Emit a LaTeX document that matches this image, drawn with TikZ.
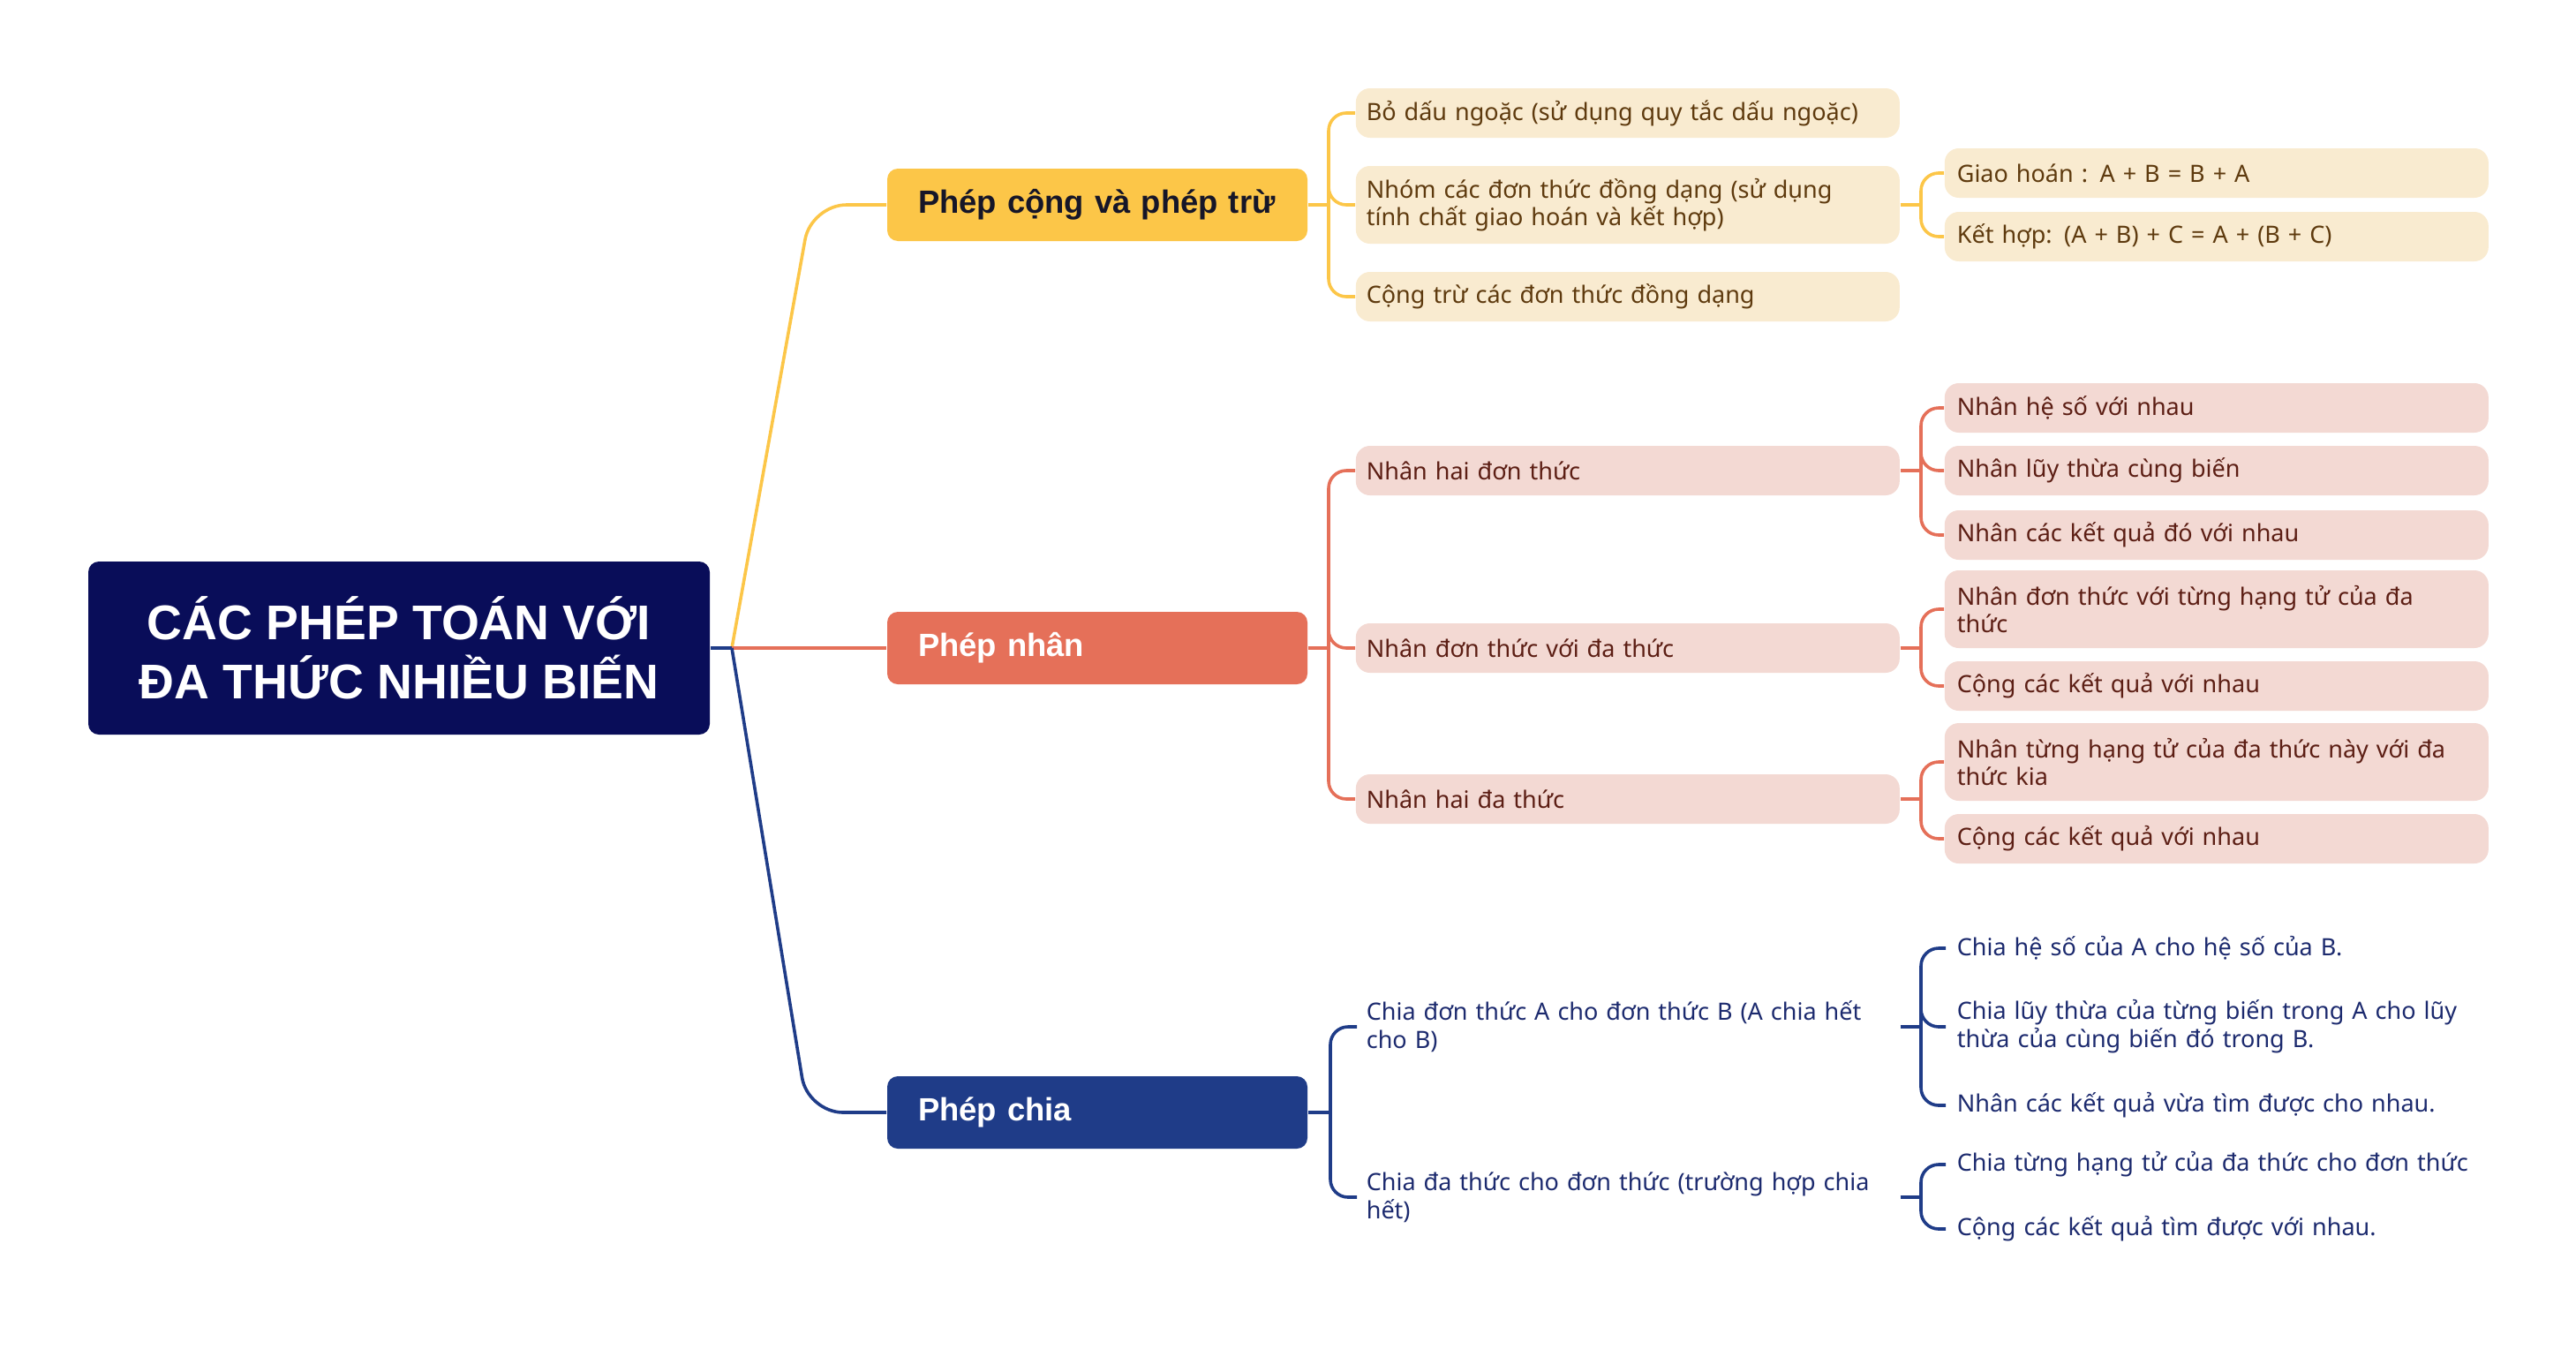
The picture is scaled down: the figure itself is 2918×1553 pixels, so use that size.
\documentclass[tikz,border=0pt]{standalone}
\usepackage{fontspec}
\setmainfont{Noto Sans}
\newfontfamily\bsans{Liberation Sans}
\usetikzlibrary{calc}
\definecolor{rootc}{RGB}{9,13,89}
\definecolor{ylc}{RGB}{252,198,72}
\definecolor{ylfill}{RGB}{249,235,208}
\definecolor{yltext}{RGB}{94,58,14}
\definecolor{rdc}{RGB}{229,112,89}
\definecolor{rdfill}{RGB}{243,217,211}
\definecolor{rdtext}{RGB}{92,30,20}
\definecolor{blc}{RGB}{31,60,136}
\definecolor{bltext}{RGB}{28,42,110}
\definecolor{darktext}{RGB}{22,22,40}
\begin{document}
\begin{tikzpicture}[x=0.25pt,y=-0.25pt,
 rootbox/.style={fill=rootc, rounded corners=3pt, minimum width=176pt, minimum height=49pt, text=white, align=center, font=\bsans\bfseries\fontsize{13.8}{16.75}\selectfont, inner sep=0pt},
 lone/.style={rounded corners=3pt, minimum height=20.5pt, text width=101.5pt, inner xsep=8.75pt, inner ysep=0pt, align=left, font=\bsans\bfseries\fontsize{9.1}{10}\selectfont},
 ltwo/.style={anchor=west, rounded corners=4pt, minimum height=14pt, text width=148pt, inner xsep=3pt, inner ysep=0pt, align=left, font=\fontsize{6.75}{7.75}\selectfont},
 lthree/.style={anchor=west, rounded corners=4pt, minimum height=14pt, text width=147pt, inner xsep=3.5pt, inner ysep=0pt, align=left, font=\fontsize{6.75}{7.75}\selectfont},
 btwo/.style={anchor=west, text width=148.5pt, inner xsep=2.5pt, inner ysep=0pt, align=left, font=\fontsize{6.75}{8}\selectfont, text=bltext},
 bthree/.style={anchor=west, text width=152pt, inner xsep=3pt, inner ysep=0pt, align=left, font=\fontsize{6.75}{8}\selectfont, text=bltext},
 tall/.style={minimum height=22pt},
 yb/.style={fill=ylfill, text=yltext},
 rb/.style={fill=rdfill, text=rdtext},
 conn/.style={line width=0.9pt},
 yl/.style={conn, draw=ylc},
 rl/.style={conn, draw=rdc},
 bl/.style={conn, draw=blc},
]
\useasboundingbox (0,0) rectangle (2918,1553);

% root and main branches
\node[rootbox] (root) at (452,734) {CÁC PHÉP TOÁN VỚI\\ĐA THỨC NHIỀU BIẾN};
\node[lone, fill=ylc, text=darktext] (pc) at (1243,232) {Phép cộng và phép trừ};
\node[lone, fill=rdc, text=white] (pn) at (1243,734) {Phép nhân};
\node[lone, fill=blc, text=white] (pch) at (1243,1260) {Phép chia};

\coordinate (hub) at (829,734);
\draw[yl, rounded corners=10pt] (hub) -- (919,232) -- (pc.west);
\draw[rl] (hub) -- (pn.west);
\draw[bl, rounded corners=10pt] (hub) -- (915,1260) -- (pch.west);
\draw[bl] (root.east) -- (hub);

% yellow branch
\node[ltwo, yb] (y1) at (1535,128) {Bỏ dấu ngoặc (sử dụng quy tắc dấu ngoặc)};
\node[ltwo, yb, tall] (y2) at (1535,232) {Nhóm các đơn thức đồng dạng (sử dụng\\tính chất giao hoán và kết hợp)};
\node[ltwo, yb] (y3) at (1535,336) {Cộng trừ các đơn thức đồng dạng};
\node[lthree, yb] (y21) at (2202,196) {Giao hoán : A + B = B + A};
\node[lthree, yb] (y22) at (2202,268) {Kết hợp: (A + B) + C = A + (B + C)};

\coordinate (yj) at (1505,232);
\draw[yl] (pc.east) -- (yj);
\foreach \n in {y1,y2,y3} \draw[yl, rounded corners=5pt] (yj) |- (\n.west);
\coordinate (yj2) at (2176,232);
\draw[yl] (y2.east) -- (yj2);
\foreach \n in {y21,y22} \draw[yl, rounded corners=5pt] (yj2) |- (\n.west);

% red branch
\node[ltwo, rb] (r1) at (1535,533) {Nhân hai đơn thức};
\node[ltwo, rb] (r2) at (1535,734) {Nhân đơn thức với đa thức};
\node[ltwo, rb] (r3) at (1535,905) {Nhân hai đa thức};
\node[lthree, rb] (r11) at (2202,462) {Nhân hệ số với nhau};
\node[lthree, rb] (r12) at (2202,533) {Nhân lũy thừa cùng biến};
\node[lthree, rb] (r13) at (2202,606) {Nhân các kết quả đó với nhau};
\node[lthree, rb, tall] (r21) at (2202,690) {Nhân đơn thức với từng hạng tử của đa\\thức};
\node[lthree, rb] (r22) at (2202,777) {Cộng các kết quả với nhau};
\node[lthree, rb, tall] (r31) at (2202,863) {Nhân từng hạng tử của đa thức này với đa\\thức kia};
\node[lthree, rb] (r32) at (2202,950) {Cộng các kết quả với nhau};

\coordinate (rj) at (1505,734);
\draw[rl] (pn.east) -- (rj);
\foreach \n in {r1,r2,r3} \draw[rl, rounded corners=5pt] (rj) |- (\n.west);
\coordinate (rj1) at (2176,533);
\draw[rl] (r1.east) -- (rj1);
\foreach \n in {r11,r12,r13} \draw[rl, rounded corners=5pt] (rj1) |- (\n.west);
\coordinate (rj2) at (2176,734);
\draw[rl] (r2.east) -- (rj2);
\foreach \n in {r21,r22} \draw[rl, rounded corners=5pt] (rj2) |- (\n.west);
\coordinate (rj3) at (2176,905);
\draw[rl] (r3.east) -- (rj3);
\foreach \n in {r31,r32} \draw[rl, rounded corners=5pt] (rj3) |- (\n.west);

% blue branch
\node[btwo] (b1) at (1537,1163) {Chia đơn thức A cho đơn thức B (A chia hết\\cho B)};
\node[btwo] (b2) at (1537,1356) {Chia đa thức cho đơn thức (trường hợp chia\\hết)};
\node[bthree] (b11) at (2204,1074) {Chia hệ số của A cho hệ số của B.};
\node[bthree] (b12) at (2204,1163) {Chia lũy thừa của từng biến trong A cho lũy\\thừa của cùng biến đó trong B.};
\node[bthree] (b13) at (2204,1252) {Nhân các kết quả vừa tìm được cho nhau.};
\node[bthree] (b21) at (2204,1319) {Chia từng hạng tử của đa thức cho đơn thức};
\node[bthree] (b22) at (2204,1392) {Cộng các kết quả tìm được với nhau.};

\coordinate (bj) at (1507,1260);
\draw[bl] (pch.east) -- (bj);
\foreach \n in {b1,b2} \draw[bl, rounded corners=5pt] (bj) |- (\n.west);
\coordinate (bj1) at (2176,1163);
\draw[bl] (b1.east) -- (bj1);
\foreach \n in {b11,b12,b13} \draw[bl, rounded corners=5pt] (bj1) |- (\n.west);
\coordinate (bj2) at (2176,1356);
\draw[bl] (b2.east) -- (bj2);
\foreach \n in {b21,b22} \draw[bl, rounded corners=5pt] (bj2) |- (\n.west);
\end{tikzpicture}
\end{document}
